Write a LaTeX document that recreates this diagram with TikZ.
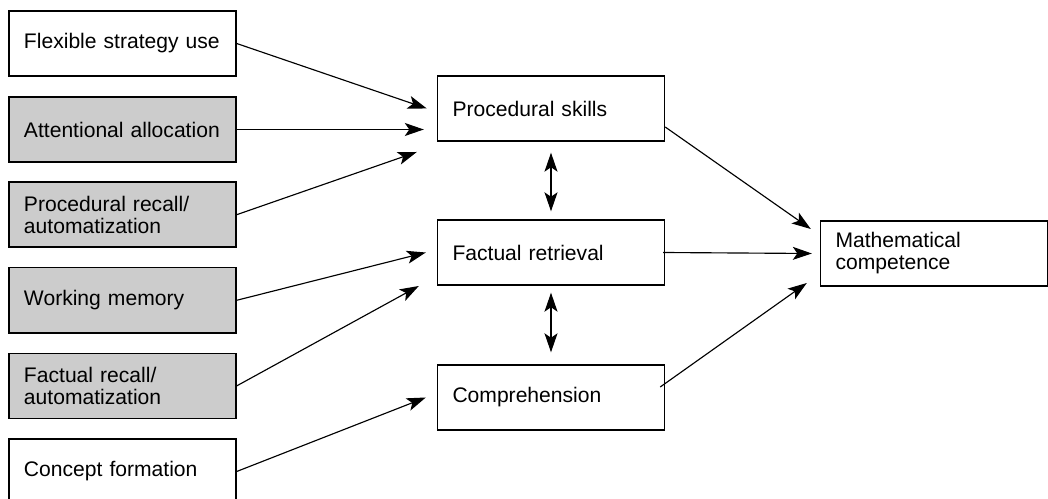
\documentclass[tikz,border=0pt]{standalone}
\usepackage{fontspec}
\setmainfont{Liberation Sans}
\usetikzlibrary{arrows.meta, calc}

\begin{document}
\begin{tikzpicture}[
  box/.style={draw, line width=0.8pt, minimum width=4.54cm, minimum height=1.3cm,
    text width=3.94cm, inner xsep=0.3cm, align=left, font=\fontsize{12}{12.5}\selectfont},
  shaded/.style={box, fill=gray!40},
  link/.style={line width=0.65pt, -{Stealth[length=0.38cm, width=0.26cm, inset=0.09cm]}},
  twoway/.style={line width=0.65pt, {Stealth[length=0.38cm, width=0.26cm, inset=0.09cm]}-{Stealth[length=0.38cm, width=0.26cm, inset=0.09cm]}}
]
  \clip (0,0) rectangle (20.96,9.96);

  % left column
  \node[box]    (flex)  at (2.45,9.09)  {Flexible strategy use};
  \node[shaded] (att)   at (2.45,7.37)  {Attentional allocation};
  \node[shaded] (prec)  at (2.45,5.666) {Procedural recall/\\automatization};
  \node[shaded] (wm)    at (2.45,3.954) {Working memory};
  \node[shaded] (frec)  at (2.45,2.242) {Factual recall/\\automatization};
  \node[box]    (conc)  at (2.45,0.53)  {Concept formation};

  % middle column
  \node[box] (ps) at (11.02,7.79) {Procedural skills};
  \node[box] (fr) at (11.02,4.91) {Factual retrieval};
  \node[box] (co) at (11.02,2.01) {Comprehension};

  % right
  \node[box] (mc) at (18.68,4.89) {Mathematical\\competence};

  \draw[link] (flex.east) -- ($(ps.west)+(-0.2,0)$);
  \draw[link] (att.east)  -- ($(ps.west)+(-0.26,-0.42)$);
  \draw[link] (prec.east) -- ($(ps.west)+(-0.4,-0.87)$);
  \draw[link] (wm.east)   -- ($(fr.west)+(-0.22,0)$);
  \draw[link] (frec.east) -- ($(fr.west)+(-0.36,-0.67)$);
  \draw[link] (conc.east) -- ($(co.west)+(-0.22,0)$);

  \draw[twoway, shorten <=0.22cm, shorten >=0.16cm] (ps.south) -- (fr.north);
  \draw[twoway, shorten <=0.14cm, shorten >=0.24cm] (fr.south) -- (co.north);

  \draw[link] ($(ps.east)+(0,-0.37)$)    -- ($(mc.west)+(-0.18,0.49)$);
  \draw[link] ($(fr.east)+(-0.04,0)$)    -- ($(mc.west)+(-0.16,0)$);
  \draw[link] ($(co.east)+(-0.1,0.21)$)  -- ($(mc.west)+(-0.26,-0.59)$);
\end{tikzpicture}
\end{document}
